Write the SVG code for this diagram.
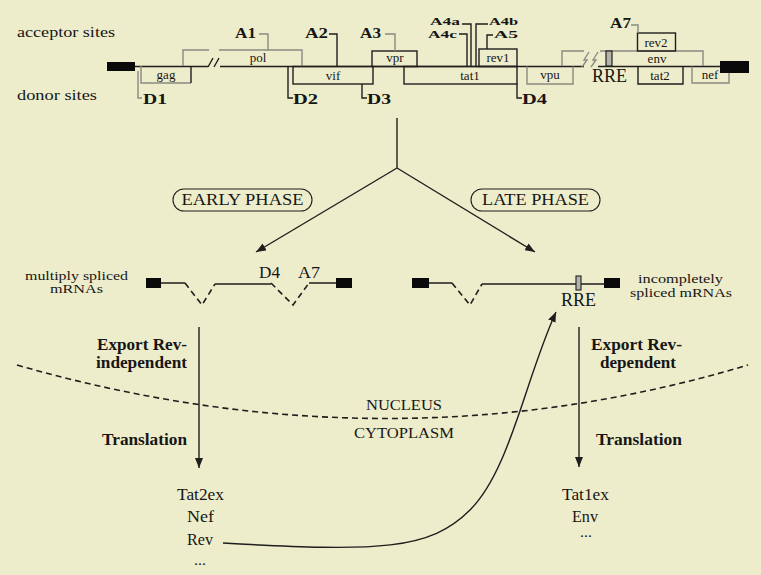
<svg xmlns="http://www.w3.org/2000/svg" width="761" height="575" viewBox="0 0 761 575">
<defs>
<style>
.t{font-family:"Liberation Serif","Times New Roman",serif;fill:#161616}
.b{font-weight:bold}
.ln{fill:none;stroke:#1e1e1e;stroke-width:1.4}
.gr{fill:none;stroke:#8a8a82;stroke-width:1.4}
.blk{fill:#0a0a0a}
.dash{fill:none;stroke:#1e1e1e;stroke-width:1.6;stroke-dasharray:6 4}
</style>
<marker id="ah" viewBox="0 0 10 8" refX="10" refY="4" markerWidth="10" markerHeight="8" markerUnits="userSpaceOnUse" orient="auto">
<path d="M0,0 L10,4 L0,8 Z" fill="#1e1e1e"/>
</marker>
</defs>
<rect width="761" height="575" fill="#eeedcb"/>

<g id="genome-labels">
<text class="t" x="17" y="37" font-size="14" textLength="98" lengthAdjust="spacingAndGlyphs">acceptor sites</text>
<text class="t" x="17" y="100" font-size="14" textLength="80" lengthAdjust="spacingAndGlyphs">donor sites</text>
</g>

<g id="genome-map">
<rect class="blk" x="107" y="62" width="28" height="9"/>
<rect class="blk" x="720" y="61" width="29" height="12"/>
<path class="ln" d="M135,66.5 H208 M220,66.5 H584 M598,66.5 H720"/>
<path class="ln" d="M208,67 L213,58 M214,67 L219,58"/>
</g>

<g id="gag">
<path class="gr" d="M141,66 V83 H191"/>
<path class="ln" d="M191,83 V66"/>
<text class="t" x="166" y="79" font-size="13" text-anchor="middle">gag</text>
</g>

<g id="pol">
<path class="gr" d="M183,66 V50 H209 M219,50 H302 V66"/>
<text class="t" x="258" y="62" font-size="13" text-anchor="middle">pol</text>
</g>

<g id="vif">
<rect class="ln" x="293" y="66.5" width="80" height="17.5"/>
<text class="t" x="333" y="80" font-size="13" text-anchor="middle">vif</text>
</g>

<g id="vpr">
<rect class="ln" x="372" y="51" width="45" height="15.5"/>
<text class="t" x="395" y="62" font-size="13" text-anchor="middle">vpr</text>
</g>

<g id="tat1">
<rect class="ln" x="404" y="66.5" width="113" height="17.5"/>
<text class="t" x="470" y="80" font-size="13" text-anchor="middle">tat1</text>
</g>

<g id="rev1">
<rect class="ln" x="479" y="49" width="38" height="17.5"/>
<text class="t" x="498" y="62" font-size="13" text-anchor="middle">rev1</text>
</g>

<g id="vpu">
<path class="gr" d="M527,66.5 V84 H573 V66.5"/>
<text class="t" x="550" y="79" font-size="13" text-anchor="middle">vpu</text>
</g>

<g id="env">
<path class="gr" d="M562,66 V51 H584 M600,51 H703 V66"/>
<path class="gr" d="M582,67 L587,60 L584,60 L589,52 M591,67 L596,60 L593,60 L598,52"/>
<rect x="606" y="51" width="6" height="15" fill="#b4b4aa" stroke="#1e1e1e" stroke-width="1.2"/>
<text class="t" x="657" y="63" font-size="13" text-anchor="middle">env</text>
<text class="t" x="592" y="82" font-size="18" textLength="35" lengthAdjust="spacingAndGlyphs">RRE</text>
</g>

<g id="rev2">
<rect class="ln" x="637.5" y="33" width="38" height="18"/>
<text class="t" x="656" y="47" font-size="13" text-anchor="middle">rev2</text>
</g>

<g id="tat2">
<path class="ln" d="M638,66.5 V84 H683 V66.5"/>
<text class="t" x="660" y="80" font-size="13" text-anchor="middle">tat2</text>
</g>

<g id="nef">
<path class="gr" d="M692,66.5 V83 H729 V73"/>
<text class="t" x="710" y="79" font-size="13" text-anchor="middle">nef</text>
</g>

<g id="sites">
<text class="t b" x="235" y="38" font-size="15" textLength="21" lengthAdjust="spacingAndGlyphs">A1</text>
<path class="gr" d="M259,34 H268 V50"/>
<text class="t b" x="305" y="38" font-size="15" textLength="23" lengthAdjust="spacingAndGlyphs">A2</text>
<path class="ln" d="M329,34 H337 V66"/>
<text class="t b" x="360" y="38" font-size="15" textLength="21" lengthAdjust="spacingAndGlyphs">A3</text>
<path class="gr" d="M385,34 H395 V51"/>
<text class="t b" x="430" y="25" font-size="11" textLength="30" lengthAdjust="spacingAndGlyphs">A4a</text>
<path class="ln" d="M462,24 H471 V66"/>
<text class="t b" x="428" y="38" font-size="11" textLength="29" lengthAdjust="spacingAndGlyphs">A4c</text>
<path class="ln" d="M459,34 H467 V66"/>
<text class="t b" x="489" y="25" font-size="11" textLength="29" lengthAdjust="spacingAndGlyphs">A4b</text>
<path class="ln" d="M488,24 H476 V66"/>
<text class="t b" x="494" y="38" font-size="11" textLength="24" lengthAdjust="spacingAndGlyphs">A5</text>
<path class="ln" d="M493,35 H487 V49"/>
<text class="t b" x="610" y="28" font-size="15" textLength="21" lengthAdjust="spacingAndGlyphs">A7</text>
<path class="gr" d="M631,25 H638 V33"/>
<path class="gr" d="M138,71 V98 H142"/>
<text class="t b" x="143" y="104" font-size="15" textLength="24" lengthAdjust="spacingAndGlyphs">D1</text>
<path class="ln" d="M288,66 V98 H293"/>
<text class="t b" x="293" y="104" font-size="15" textLength="25" lengthAdjust="spacingAndGlyphs">D2</text>
<path class="ln" d="M362,84 V98 H367"/>
<text class="t b" x="367" y="104" font-size="15" textLength="24" lengthAdjust="spacingAndGlyphs">D3</text>
<path class="ln" d="M517,84 V98 H522"/>
<text class="t b" x="522" y="104" font-size="15" textLength="25" lengthAdjust="spacingAndGlyphs">D4</text>
</g>

<g id="early-phase">
<rect x="173" y="189" width="139" height="22" rx="11" fill="none" stroke="#1e1e1e" stroke-width="1.1"/>
<text class="t" x="242.5" y="205" font-size="17" text-anchor="middle" textLength="122" lengthAdjust="spacingAndGlyphs">EARLY PHASE</text>
</g>

<g id="late-phase">
<rect x="471" y="189" width="129" height="22" rx="11" fill="none" stroke="#1e1e1e" stroke-width="1.1"/>
<text class="t" x="535.5" y="205" font-size="17" text-anchor="middle" textLength="107" lengthAdjust="spacingAndGlyphs">LATE PHASE</text>
</g>

<g id="multiply-spliced">
<rect class="blk" x="146" y="278" width="15" height="10"/>
<rect class="blk" x="336" y="278" width="16" height="10"/>
<path class="ln" d="M161,283 H185 M215,284 H271 M309,283 H336"/>
<path class="dash" stroke-dasharray="3 2" d="M185,283 L202,305 L215,284 M271,283 L293,305 L309,283"/>
<text class="t" x="259" y="278" font-size="16" textLength="21" lengthAdjust="spacingAndGlyphs">D4</text>
<text class="t" x="298" y="278" font-size="16" textLength="22" lengthAdjust="spacingAndGlyphs">A7</text>
<text class="t" x="25" y="280" font-size="12.5" textLength="103" lengthAdjust="spacingAndGlyphs">multiply spliced</text>
<text class="t" x="50" y="293" font-size="12.5" textLength="53" lengthAdjust="spacingAndGlyphs">mRNAs</text>
</g>

<g id="incompletely-spliced">
<rect class="blk" x="412" y="278" width="17" height="10"/>
<rect class="blk" x="604" y="278" width="16" height="10"/>
<path class="ln" d="M429,283 H452 M482,284 H604"/>
<path class="dash" stroke-dasharray="3 2" d="M452,283 L470,305 L482,284"/>
<rect x="576" y="276" width="5" height="14" fill="#b4b4aa" stroke="#1e1e1e" stroke-width="1.1"/>
<text class="t" x="561" y="306" font-size="18" textLength="35" lengthAdjust="spacingAndGlyphs">RRE</text>
<text class="t" x="638" y="283" font-size="12.5" textLength="85" lengthAdjust="spacingAndGlyphs">incompletely</text>
<text class="t" x="630" y="297" font-size="12.5" textLength="102" lengthAdjust="spacingAndGlyphs">spliced mRNAs</text>
</g>

<g id="compartments">
<text class="t" x="366" y="410" font-size="15" textLength="76" lengthAdjust="spacingAndGlyphs">NUCLEUS</text>
<text class="t" x="354" y="438" font-size="15" textLength="100" lengthAdjust="spacingAndGlyphs">CYTOPLASM</text>
</g>

<g id="left-steps">
<text class="t b" x="97" y="350" font-size="16" textLength="90" lengthAdjust="spacingAndGlyphs">Export Rev-</text>
<text class="t b" x="96" y="368" font-size="16" textLength="91" lengthAdjust="spacingAndGlyphs">independent</text>
<text class="t b" x="102" y="445" font-size="16" textLength="85" lengthAdjust="spacingAndGlyphs">Translation</text>
</g>

<g id="right-steps">
<text class="t b" x="591" y="350" font-size="16" textLength="91" lengthAdjust="spacingAndGlyphs">Export Rev-</text>
<text class="t b" x="600" y="368" font-size="16" textLength="76" lengthAdjust="spacingAndGlyphs">dependent</text>
<text class="t b" x="596" y="445" font-size="16" textLength="86" lengthAdjust="spacingAndGlyphs">Translation</text>
</g>

<g id="early-products">
<text class="t" x="177" y="500" font-size="16" textLength="47" lengthAdjust="spacingAndGlyphs">Tat2ex</text>
<text class="t" x="187" y="522" font-size="16" textLength="27" lengthAdjust="spacingAndGlyphs">Nef</text>
<text class="t" x="187" y="545" font-size="16" textLength="26" lengthAdjust="spacingAndGlyphs">Rev</text>
<text class="t" x="194" y="565" font-size="14" textLength="12" lengthAdjust="spacingAndGlyphs">...</text>
</g>

<g id="late-products">
<text class="t" x="562" y="500" font-size="16" textLength="47" lengthAdjust="spacingAndGlyphs">Tat1ex</text>
<text class="t" x="572" y="522" font-size="16" textLength="26" lengthAdjust="spacingAndGlyphs">Env</text>
<text class="t" x="580" y="537" font-size="14" textLength="12" lengthAdjust="spacingAndGlyphs">...</text>
</g>

<g id="connectors">
<path class="ln" d="M397,118 V168"/>
<path class="ln" stroke-width="1.2" marker-end="url(#ah)" d="M397,168 L256,252"/>
<path class="ln" stroke-width="1.2" marker-end="url(#ah)" d="M397,168 L535,252"/>
<path class="ln" marker-end="url(#ah)" d="M199,327 V468"/>
<path class="ln" marker-end="url(#ah)" d="M579,327 V467"/>
<path class="dash" d="M17,365 Q390,472 748,365"/>
<path class="ln" stroke-width="1.2" marker-end="url(#ah)" d="M223,543 C380,552 430,550 470,510 C510,470 525,380 556,312"/>
</g>
</svg>
